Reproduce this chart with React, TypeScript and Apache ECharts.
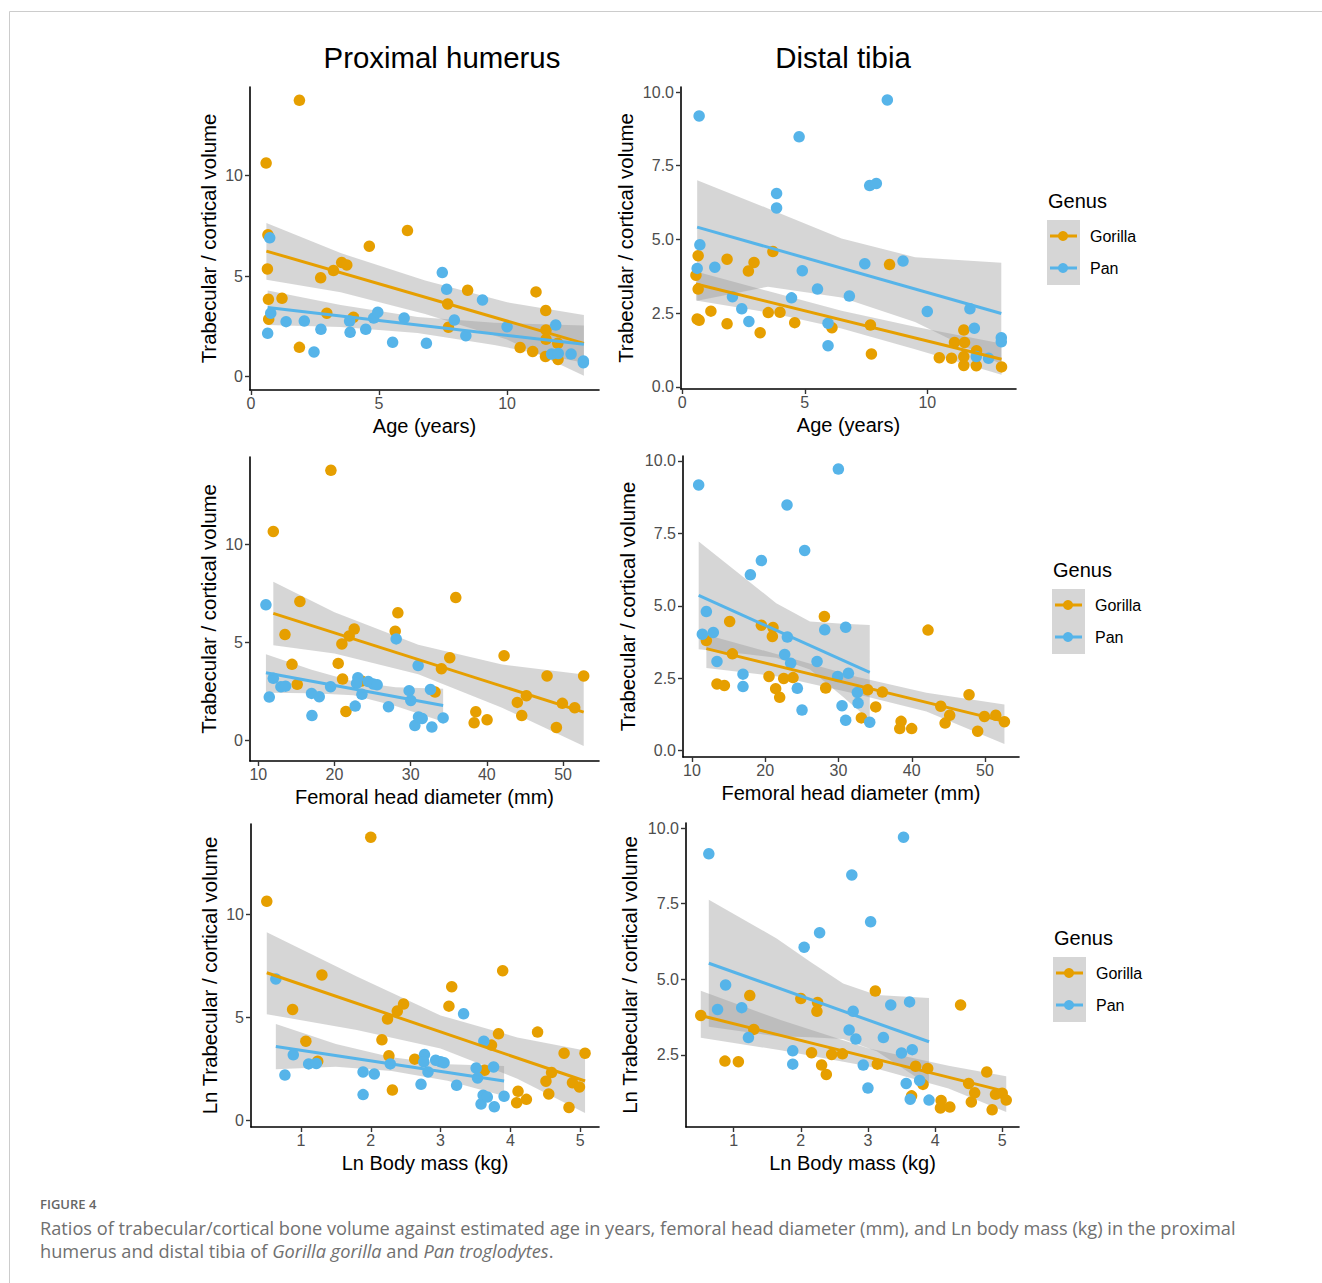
import React, { useEffect, useRef } from 'react';
import * as echarts from 'echarts';

const FONT = '"Liberation Sans", Arial, Helvetica, sans-serif';
const CAPFONT = '"Open Sans", "Noto Sans", sans-serif';
const GORILLA = '#E69F00';
const PAN = '#56B4E9';
const RIBBON = 'rgba(153,153,153,0.4)';

// ---------- Proximal humerus vs Age ----------
const phAgeGorilla = [[1.89,13.75],[0.59,10.63],[0.66,7.06],[0.64,5.36],[0.68,3.85],[0.69,2.86],[1.21,3.90],[1.89,1.46],[2.72,4.92],[3.22,5.28],[3.54,5.68],[3.74,5.56],[4.62,6.49],[6.11,7.27],[2.96,3.16],[4.0,2.96],[7.68,3.62],[7.71,2.46],[8.46,4.30],[10.51,1.45],[11.0,1.26],[11.13,4.22],[11.51,3.29],[11.52,2.33],[11.52,1.86],[11.5,1.01],[11.98,1.66],[11.99,0.86]];
const phAgePan = [[0.73,6.91],[0.77,3.16],[0.65,2.16],[1.37,2.74],[2.08,2.77],[2.46,1.23],[2.73,2.36],[3.85,2.77],[3.87,2.21],[4.48,2.36],[4.79,2.92],[4.95,3.21],[5.53,1.71],[5.98,2.92],[6.85,1.66],[7.47,5.18],[7.64,4.35],[7.94,2.82],[8.39,2.04],[9.04,3.82],[10.0,2.49],[11.9,2.57],[11.74,1.13],[12.0,1.16],[12.5,1.13],[12.98,0.70],[12.98,0.78]];
const phAgeGorillaFit = [[0.6,6.25],[13.0,1.66]];
const phAgeGorillaBand = [[0.6,4.82,7.64],[3.5,4.2,6.15],[6.8,3.12,4.78],[10,1.85,3.7],[13,0.05,3.07]];
const phAgePanFit = [[0.65,3.44],[13.0,1.61]];
const phAgePanBand = [[0.65,2.57,4.29],[3.5,2.47,3.57],[6.5,2.17,2.97],[9.5,1.58,2.68],[13,0.7,2.55]];

// ---------- Distal tibia vs Age ----------
const dtAgeGorilla = [[0.56,3.79],[0.65,4.45],[0.65,3.32],[0.61,2.30],[0.69,2.26],[1.17,2.57],[1.83,4.33],[1.83,2.14],[2.70,3.93],[2.93,4.22],[3.18,1.84],[3.51,2.52],[3.70,4.59],[3.99,2.53],[4.59,2.18],[6.11,2.01],[7.68,2.10],[7.72,1.12],[8.46,4.15],[10.49,0.99],[10.99,0.97],[11.11,1.51],[11.49,1.93],[11.52,1.51],[11.49,1.03],[11.49,0.73],[12.01,1.23],[12.0,0.72],[13.03,0.68]];
const dtAgePan = [[0.69,9.19],[0.72,4.82],[0.61,4.02],[1.33,4.06],[2.05,3.06],[2.43,2.65],[2.72,2.22],[3.85,6.56],[3.85,6.07],[4.46,3.02],[4.77,8.48],[4.90,3.94],[5.52,3.32],[5.95,2.16],[5.95,1.40],[6.82,3.08],[7.45,4.18],[7.65,6.83],[7.92,6.90],[8.37,9.73],[9.01,4.27],[10.0,2.56],[11.74,2.65],[11.92,1.99],[12.0,1.03],[12.5,0.97],[13.02,1.67],[13.02,1.53]];
const dtAgeGorillaFit = [[0.56,3.49],[13.03,0.94]];
const dtAgeGorillaBand = [[0.56,2.93,3.91],[3.5,2.53,3.25],[6.5,1.98,2.58],[9.5,1.28,2.04],[13.03,0.41,1.47]];
const dtAgePanFit = [[0.61,5.42],[13.02,2.49]];
const dtAgePanBand = [[0.61,2.92,7.01],[3.5,3.4,6.05],[6.5,3.03,5.03],[9.5,2.2,4.4],[13.02,0.77,4.21]];

// ---------- Proximal humerus vs Femoral head diameter ----------
const phFhdGorilla = [[19.53,13.77],[11.97,10.65],[15.46,7.08],[13.50,5.39],[14.42,3.87],[15.11,2.85],[20.49,3.92],[20.97,4.91],[21.06,3.12],[21.5,1.47],[22.59,5.67],[21.93,5.32],[23.55,3.02],[27.97,5.56],[28.32,6.50],[33.2,2.46],[34.04,3.65],[35.13,4.21],[35.92,7.28],[38.33,0.89],[38.55,1.45],[40.03,1.04],[42.26,4.31],[44.0,1.93],[44.58,1.26],[45.19,2.27],[47.9,3.28],[49.13,0.65],[49.91,1.88],[51.53,1.66],[52.71,3.28]];
const phFhdPan = [[11.0,6.91],[11.44,2.20],[11.97,3.16],[12.97,2.73],[13.58,2.76],[16.99,2.39],[17.04,1.26],[18.0,2.22],[19.49,2.73],[22.72,1.74],[23.07,3.19],[22.9,2.90],[23.6,2.34],[24.43,3.0],[25.08,2.87],[25.6,2.83],[27.09,1.71],[28.1,5.17],[29.8,2.53],[30.02,2.03],[30.55,0.75],[30.98,3.81],[31.03,1.19],[31.51,1.11],[32.6,2.59],[32.78,0.67],[34.26,1.14]];
const phFhdGorillaFit = [[11.97,6.47],[52.71,1.43]];
const phFhdGorillaBand = [[11.97,4.85,8.09],[20,4.43,6.53],[31,3.37,4.87],[42,1.66,3.86],[52.71,-0.3,3.35]];
const phFhdPanFit = [[11.0,3.44],[34.26,1.77]];
const phFhdPanBand = [[11.0,2.42,4.38],[17,2.4,3.6],[22.5,2.3,3.0],[28,1.75,2.7],[34.26,0.94,2.63]];

// ---------- Distal tibia vs Femoral head diameter ----------
const dtFhdGorilla = [[11.96,3.80],[13.41,2.30],[14.42,2.25],[15.14,4.46],[15.51,3.34],[19.47,4.33],[20.51,2.56],[21.06,4.25],[20.97,3.94],[21.42,2.14],[21.97,1.84],[22.52,2.49],[23.79,2.52],[28.07,4.63],[28.25,2.16],[33.12,1.13],[33.99,2.10],[35.99,2.02],[35.08,1.51],[38.36,0.76],[38.54,1.01],[39.99,0.76],[42.22,4.16],[43.96,1.53],[44.55,0.95],[45.18,1.22],[47.82,1.93],[49.0,0.67],[49.92,1.18],[51.47,1.22],[52.65,1.0]];
const dtFhdPan = [[10.91,9.17],[11.41,4.02],[11.96,4.80],[12.91,4.08],[13.41,3.08],[16.96,2.64],[16.96,2.21],[17.97,6.07],[19.47,6.56],[22.65,3.32],[22.97,8.48],[23.02,3.92],[23.47,3.02],[24.38,2.15],[25.02,1.40],[25.38,6.91],[27.07,3.08],[28.12,4.17],[29.89,2.56],[29.98,9.72],[30.48,1.55],[30.98,4.26],[30.98,1.05],[31.35,2.67],[32.58,2.01],[32.67,1.64],[34.26,0.98]];
const dtFhdGorillaFit = [[11.96,3.52],[52.65,1.01]];
const dtFhdGorillaBand = [[11.96,2.85,4.0],[22,2.55,3.3],[32,1.98,2.58],[42,1.35,2.0],[52.65,0.23,1.59]];
const dtFhdPanFit = [[10.91,5.36],[34.26,2.70]];
const dtFhdPanBand = [[10.91,3.50,7.22],[16.96,3.34,6.0],[21.5,3.21,5.09],[26.1,2.80,4.46],[30.6,1.86,4.38],[34.26,1.06,4.34]];

// ---------- Proximal humerus vs Ln body mass ----------
const phBmGorilla = [[2.0,13.73],[0.51,10.62],[1.30,7.05],[0.88,5.38],[1.07,3.84],[1.24,2.87],[2.16,3.91],[2.24,4.91],[2.38,5.30],[2.47,5.64],[2.26,3.13],[2.31,1.47],[2.63,2.97],[3.12,5.54],[3.16,6.48],[3.63,2.43],[3.73,3.65],[3.83,4.20],[3.89,7.26],[4.11,1.41],[4.09,0.86],[4.23,1.02],[4.39,4.28],[4.51,1.90],[4.55,1.28],[4.59,2.32],[4.77,3.26],[4.84,0.63],[4.89,1.83],[4.99,1.62],[5.07,3.26]];
const phBmPan = [[0.64,6.86],[0.77,2.20],[0.89,3.18],[1.11,2.74],[1.22,2.76],[1.89,2.35],[1.89,1.25],[2.05,2.25],[2.28,2.74],[2.72,1.75],[2.77,3.19],[2.76,2.84],[2.82,2.35],[2.93,2.92],[3.0,2.84],[3.05,2.80],[3.23,1.70],[3.33,5.17],[3.51,2.54],[3.53,2.06],[3.58,0.79],[3.62,3.84],[3.61,1.22],[3.67,1.13],[3.76,2.59],[3.77,0.66],[3.91,1.17]];
const phBmGorillaFit = [[0.51,7.16],[5.07,1.91]];
const phBmGorillaBand = [[0.51,5.15,9.12],[1.8,4.38,6.98],[3.0,3.49,5.09],[4.1,2.02,4.02],[5.07,0.36,3.39]];
const phBmPanFit = [[0.64,3.58],[3.91,1.91]];
const phBmPanBand = [[0.64,2.48,4.67],[1.5,2.6,3.7],[2.3,2.4,3.06],[3.1,1.92,2.72],[3.91,1.18,2.64]];

// ---------- Distal tibia vs Ln body mass ----------
const dtBmGorilla = [[0.51,3.80],[0.87,2.29],[1.07,2.27],[1.24,4.46],[1.30,3.34],[2.0,4.36],[2.16,2.57],[2.25,4.23],[2.24,3.94],[2.31,2.16],[2.38,1.85],[2.46,2.51],[2.62,2.53],[3.11,4.61],[3.14,2.19],[3.65,1.14],[3.71,2.12],[3.82,1.52],[3.89,2.05],[4.09,0.99],[4.08,0.74],[4.22,0.77],[4.38,4.15],[4.50,1.55],[4.54,0.94],[4.59,1.24],[4.77,1.93],[4.85,0.68],[4.90,1.19],[5.0,1.23],[5.06,1.0]];
const dtBmPan = [[0.63,9.15],[0.76,4.0],[0.88,4.81],[1.12,4.06],[1.22,3.07],[1.88,2.63],[1.88,2.19],[2.05,6.06],[2.28,6.54],[2.72,3.32],[2.76,8.45],[2.78,3.94],[2.82,3.02],[2.93,2.16],[3.0,1.40],[3.04,6.90],[3.23,3.07],[3.34,4.15],[3.50,2.56],[3.53,9.70],[3.57,1.55],[3.62,4.25],[3.63,1.03],[3.66,2.67],[3.77,1.65],[3.91,1.0]];
const dtBmGorillaFit = [[0.51,3.80],[5.06,1.28]];
const dtBmGorillaBand = [[0.51,3.06,4.62],[1.7,2.65,3.65],[3.0,2.12,2.72],[4.2,1.38,2.14],[5.06,0.61,1.79]];
const dtBmPanFit = [[0.63,5.53],[3.91,2.93]];
const dtBmPanBand = [[0.63,3.43,7.63],[1.64,3.11,6.35],[2.14,3.08,5.58],[2.63,3.02,4.86],[3.13,2.62,4.48],[3.91,1.48,4.38]];

// ---------- tick values ----------
const ageTicks = [0, 5, 10];
const fhdTicks = [10, 20, 30, 40, 50];
const bmTicks = [1, 2, 3, 4, 5];
const phYTicks = [0, 5, 10];
const dtYTicks = [0, 2.5, 5, 7.5, 10];
const dtBmYTicks = [2.5, 5, 7.5, 10];

const columnTitles = ['Proximal humerus', 'Distal tibia'];
const legendTitle = 'Genus';
const legendNames = ['Gorilla', 'Pan'];

// ---------- panel layout ----------
const panels = [
  { grid: { left: 250, top: 87, width: 349, height: 303 }, x: [-0.04, 13.59], y: [-0.66, 14.41], xt: ageTicks, yt: phYTicks, xn: 'Age (years)', yn: 'Trabecular / cortical volume', dec: false, yGap: 31,
    g: phAgeGorilla, p: phAgePan, gf: phAgeGorillaFit, gb: phAgeGorillaBand, pf: phAgePanFit, pb: phAgePanBand },
  { grid: { left: 681, top: 87, width: 335, height: 302 }, x: [-0.05, 13.62], y: [-0.07, 10.17], xt: ageTicks, yt: dtYTicks, xn: 'Age (years)', yn: 'Trabecular / cortical volume', dec: true, yGap: 45,
    g: dtAgeGorilla, p: dtAgePan, gf: dtAgeGorillaFit, gb: dtAgeGorillaBand, pf: dtAgePanFit, pb: dtAgePanBand },
  { grid: { left: 250, top: 457, width: 349, height: 304 }, x: [8.91, 54.72], y: [-1.06, 14.45], xt: fhdTicks, yt: phYTicks, xn: 'Femoral head diameter (mm)', yn: 'Trabecular / cortical volume', dec: false, yGap: 31,
    g: phFhdGorilla, p: phFhdPan, gf: phFhdGorillaFit, gb: phFhdGorillaBand, pf: phFhdPanFit, pb: phFhdPanBand },
  { grid: { left: 683, top: 456, width: 336, height: 301 }, x: [8.77, 54.64], y: [-0.22, 10.17], xt: fhdTicks, yt: dtYTicks, xn: 'Femoral head diameter (mm)', yn: 'Trabecular / cortical volume', dec: true, yGap: 45,
    g: dtFhdGorilla, p: dtFhdPan, gf: dtFhdGorillaFit, gb: dtFhdGorillaBand, pf: dtFhdPanFit, pb: dtFhdPanBand },
  { grid: { left: 251, top: 824, width: 348, height: 303 }, x: [0.284, 5.27], y: [-0.32, 14.37], xt: bmTicks, yt: phYTicks, xn: 'Ln Body mass (kg)', yn: 'Ln Trabecular / cortical volume', dec: false, yGap: 31,
    g: phBmGorilla, p: phBmPan, gf: phBmGorillaFit, gb: phBmGorillaBand, pf: phBmPanFit, pb: phBmPanBand },
  { grid: { left: 686, top: 823, width: 333, height: 304 }, x: [0.29, 5.25], y: [0.11, 10.17], xt: bmTicks, yt: dtBmYTicks, xn: 'Ln Body mass (kg)', yn: 'Ln Trabecular / cortical volume', dec: true, yGap: 46,
    g: dtBmGorilla, p: dtBmPan, gf: dtBmGorillaFit, gb: dtBmGorillaBand, pf: dtBmPanFit, pb: dtBmPanBand },
];

const legendPos = [
  { left: 1047, top: 220 },
  { left: 1052, top: 589 },
  { left: 1053, top: 957 },
];

function axisCommon(ticks: number[], fmt: (v: number) => string, margin: number) {
  return {
    axisLine: { show: true, onZero: false, lineStyle: { color: '#000', width: 1.6 } },
    axisTick: { show: true, length: 5, lineStyle: { color: '#333', width: 1.4 }, customValues: ticks },
    axisLabel: { show: true, customValues: ticks, color: '#4d4d4d', fontSize: 16, fontFamily: FONT, margin, formatter: fmt },
    splitLine: { show: false },
  };
}

function ribbonSeries(i: number, band: number[][]) {
  return {
    type: 'custom',
    xAxisIndex: i,
    yAxisIndex: i,
    silent: true,
    data: [[band[0][0], band[0][1]]],
    renderItem: (_params: any, api: any) => {
      const upper = band.map((r) => api.coord([r[0], r[2]]));
      const lower = band.slice().reverse().map((r) => api.coord([r[0], r[1]]));
      return { type: 'polygon', shape: { points: upper.concat(lower) }, style: { fill: RIBBON } };
    },
  };
}

function fitSeries(i: number, fit: number[][], color: string) {
  return {
    type: 'line', xAxisIndex: i, yAxisIndex: i, data: fit, silent: true,
    showSymbol: false, symbol: 'none', lineStyle: { color, width: 3 },
  };
}

function scatterSeries(i: number, pts: number[][], color: string) {
  return {
    type: 'scatter', xAxisIndex: i, yAxisIndex: i, data: pts, silent: true,
    symbol: 'circle', symbolSize: 11.5, itemStyle: { color, opacity: 1 },
  };
}

function legendEls(left: number, top: number) {
  const els: any[] = [
    { type: 'text', x: left + 1, y: top - 19, style: { text: legendTitle, fontSize: 20, fontFamily: FONT, fill: '#000', verticalAlign: 'middle' } },
    { type: 'rect', shape: { x: left, y: top, width: 33, height: 65 }, style: { fill: '#d6d6d6' } },
  ];
  [GORILLA, PAN].forEach((c, k) => {
    const cy = top + 16 + k * 32;
    els.push({ type: 'line', shape: { x1: left + 3, y1: cy, x2: left + 30, y2: cy }, style: { stroke: c, lineWidth: 3 } });
    els.push({ type: 'circle', shape: { cx: left + 16, cy, r: 5 }, style: { fill: c } });
    els.push({ type: 'text', x: left + 43, y: cy, style: { text: legendNames[k], fontSize: 16, fontFamily: FONT, fill: '#000', verticalAlign: 'middle' } });
  });
  return els;
}

export default function App() {
  const ref = useRef<HTMLDivElement>(null);
  useEffect(() => {
    if (!ref.current) return;
    const chart = echarts.init(ref.current, undefined, { renderer: 'svg' });
    const grids: any[] = [];
    const xAxes: any[] = [];
    const yAxes: any[] = [];
    const series: any[] = [];
    panels.forEach((p, i) => {
      grids.push({ ...p.grid, containLabel: false });
      xAxes.push({
        type: 'value', gridIndex: i, min: p.x[0], max: p.x[1],
        name: p.xn, nameLocation: 'middle', nameGap: 26,
        nameTextStyle: { fontSize: 20, color: '#000', fontFamily: FONT },
        ...axisCommon(p.xt, (v: number) => String(v), 5),
      });
      yAxes.push({
        type: 'value', gridIndex: i, min: p.y[0], max: p.y[1],
        name: p.yn, nameLocation: 'middle', nameGap: p.yGap,
        nameTextStyle: { fontSize: 20.4, color: '#000', fontFamily: FONT },
        ...axisCommon(p.yt, (v: number) => (p.dec ? v.toFixed(1) : String(v)), 7),
      });
      series.push(scatterSeries(i, p.g, GORILLA));
      series.push(scatterSeries(i, p.p, PAN));
      series.push(ribbonSeries(i, p.gb));
      series.push(fitSeries(i, p.gf, GORILLA));
      series.push(ribbonSeries(i, p.pb));
      series.push(fitSeries(i, p.pf, PAN));
    });

    const graphics: any[] = [
      { type: 'line', shape: { x1: 9.5, y1: 11.5, x2: 1322, y2: 11.5 }, style: { stroke: '#cccccc', lineWidth: 1 } },
      { type: 'line', shape: { x1: 9.5, y1: 11.5, x2: 9.5, y2: 1283 }, style: { stroke: '#cccccc', lineWidth: 1 } },
      { type: 'text', x: 442, y: 57, style: { text: columnTitles[0], fontSize: 29.4, fontFamily: FONT, fill: '#000', align: 'center', verticalAlign: 'middle' } },
      { type: 'text', x: 843, y: 57, style: { text: columnTitles[1], fontSize: 29.4, fontFamily: FONT, fill: '#000', align: 'center', verticalAlign: 'middle' } },
      { type: 'text', x: 40, y: 1204, style: { text: 'FIGURE 4', fontSize: 13, fontWeight: 600, fontFamily: CAPFONT, fill: '#666', verticalAlign: 'middle' } },
      { type: 'text', x: 40, y: 1228, style: { text: 'Ratios of trabecular/cortical bone volume against estimated age in years, femoral head diameter (mm), and Ln body mass (kg) in the proximal', fontSize: 18.2, fontFamily: CAPFONT, fill: '#707070', verticalAlign: 'middle' } },
      {
        type: 'text', x: 40, y: 1251,
        style: {
          text: '{n|humerus and distal tibia of }{i|Gorilla gorilla}{n| and }{i|Pan troglodytes}{n|.}',
          fontSize: 18.2, fontFamily: CAPFONT, fill: '#707070', verticalAlign: 'middle',
          rich: {
            n: { fontSize: 18.2, fontFamily: CAPFONT, fill: '#707070' },
            i: { fontSize: 18.2, fontFamily: CAPFONT, fill: '#707070', fontStyle: 'italic' },
          },
        },
      },
    ];
    legendPos.forEach((l) => graphics.push(...legendEls(l.left, l.top)));

    chart.setOption({
      animation: false,
      backgroundColor: '#ffffff',
      grid: grids,
      xAxis: xAxes,
      yAxis: yAxes,
      series,
      graphic: { elements: graphics },
    });
    return () => chart.dispose();
  }, []);
  return <div ref={ref} style={{ position: 'absolute', left: 0, top: 0, width: 1322, height: 1283 }} />;
}
